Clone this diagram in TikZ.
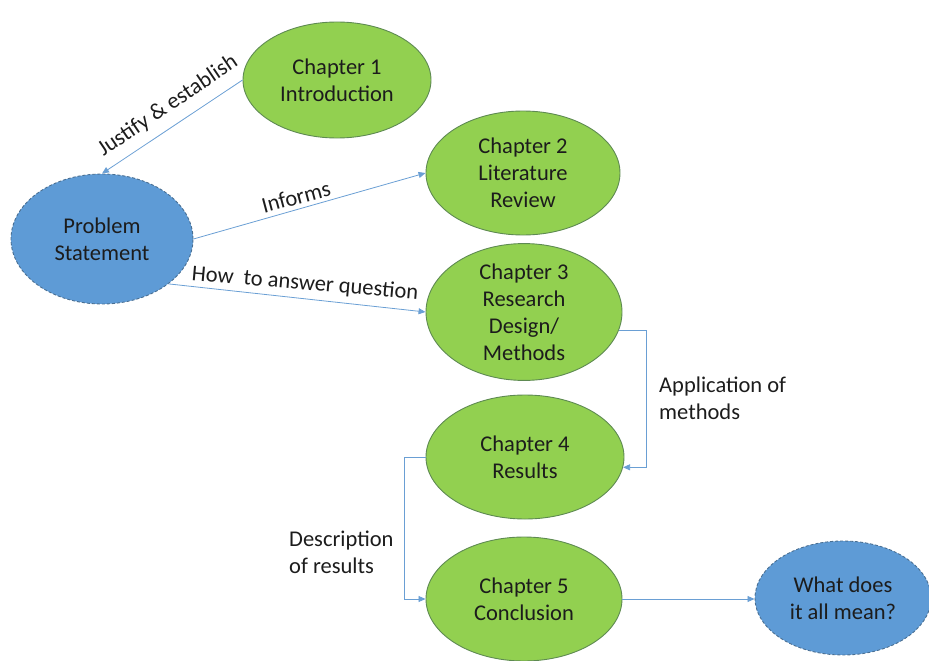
\documentclass[tikz,border=0pt]{standalone}
\usepackage{fontspec}
\setmainfont{Carlito}
\usetikzlibrary{shapes.geometric,arrows.meta,calc}
\definecolor{chapfill}{HTML}{92D050}
\definecolor{chapedge}{HTML}{5E8A52}
\definecolor{keyfill}{HTML}{5E9BD6}
\definecolor{keyedge}{HTML}{4A6F92}
\definecolor{linkcol}{HTML}{6A9FD4}
\definecolor{txt}{HTML}{1C1C1C}
\tikzset{
  x=1pt, y=-1pt,
  every node/.style={text=txt, font=\fontsize{22.5}{27}\selectfont, align=center},
  chapter/.style={ellipse, draw=chapedge, line width=0.9pt, fill=chapfill, inner sep=0pt},
  keyq/.style={ellipse, draw=keyedge, dashed, dash pattern=on 3pt off 2pt, line width=0.9pt, fill=keyfill, inner sep=0pt},
  link/.style={draw=linkcol, line width=0.8pt, -{Triangle[length=7pt,width=6pt]}},
  lbl/.style={inner sep=0pt}
}
\begin{document}
\begin{tikzpicture}
\useasboundingbox (0,0) rectangle (929,661);

% key questions (blue, dashed outline)
\node[keyq, minimum width=182pt, minimum height=130pt] (ps) at (102,239) {Problem\\Statement};
\node[keyq, minimum width=176pt, minimum height=114pt] (w) at (843,598) {What does\\it all mean?};

% chapters (green)
\node[chapter, minimum width=188pt, minimum height=116pt] (c1) at (337,80) {Chapter 1\\Introduction};
\node[chapter, minimum width=194pt, minimum height=124pt] (c2) at (523,173) {Chapter 2\\Literature\\Review};
\node[chapter, minimum width=196pt, minimum height=126pt] (c3) at (524,312) {Chapter 3\\Research\\Design/\\Methods};
\node[chapter, minimum width=198pt, minimum height=124pt] (c4) at (525,457) {Chapter 4\\Results};
\node[chapter, minimum width=196pt, minimum height=124pt] (c5) at (524,599) {Chapter 5\\Conclusion};

% routing columns for the elbow connectors
\coordinate (rcol) at (646,0);
\coordinate (lcol) at (404,0);

% connectors
\draw[link] (c1.west) -- (ps.north);
\draw[link] (ps.east) -- (c2.west);
\draw[link] (ps.-34) -- (c3.west);
\draw[link] (c3.-11) -- (c3.-11 -| rcol) -- (c4.-6 -| rcol) -- (c4.-6);
\draw[link] (c4.west) -- (c4.west -| lcol) -- (c5.west -| lcol) -- (c5.west);
\draw[link] (c5.east) -- (c5.east -| w.west);

% connector labels
\node[lbl, rotate=34] (l1) at (168,106) {Justify \& establish};
\node[lbl, rotate=15] (l2) at (296,197) {Informs};
\node[lbl, rotate=-5] (l3) at (305,284) {How\ \ to answer question};
\node[lbl, anchor=west, align=left] (l4) at (659,398) {Application of\\methods};
\node[lbl, anchor=west, align=left] (l5) at (289,552) {Description\\of results};
\end{tikzpicture}
\end{document}
